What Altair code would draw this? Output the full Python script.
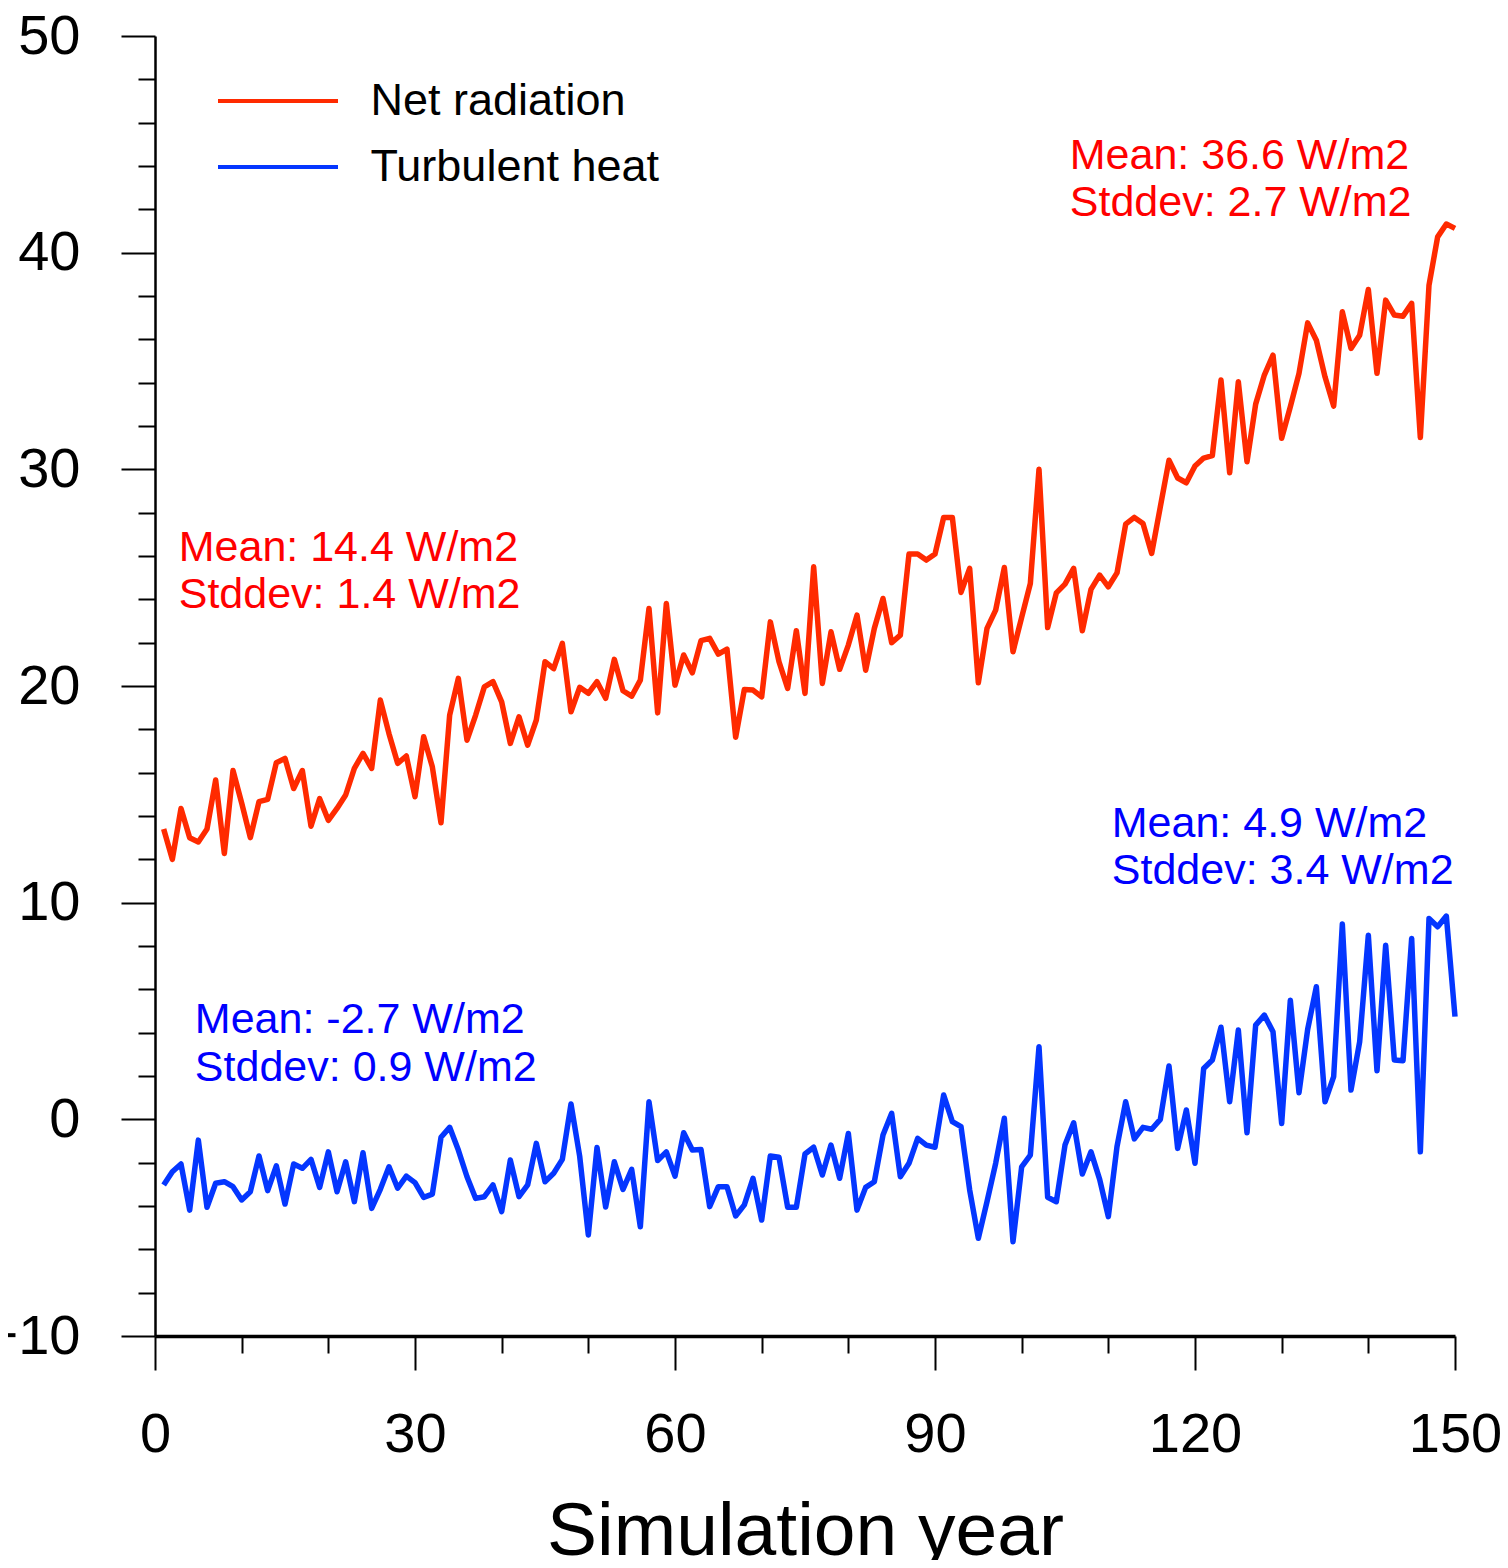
import altair as alt
import pandas as pd

years = list(range(1, 151))

net_radiation = [
    13.4, 12.0, 14.35, 13.0, 12.8, 13.4, 15.66, 12.27, 16.1, 14.6,
    13.0, 14.66, 14.77, 16.46, 16.66, 15.27, 16.1, 13.53, 14.8, 13.8,
    14.35, 14.97, 16.2, 16.89, 16.2, 19.35, 17.8, 16.43, 16.77, 14.89,
    17.66, 16.27, 13.69, 18.66, 20.35, 17.5, 18.66, 19.96, 20.2, 19.27,
    17.35, 18.58, 17.27, 18.43, 21.12, 20.8, 21.97, 18.81, 19.94, 19.66,
    20.2, 19.43, 21.23, 19.78, 19.53, 20.27, 23.58, 18.76, 23.81, 20.04,
    21.43, 20.61, 22.09, 22.2, 21.47, 21.7, 17.63, 19.84, 19.81, 19.5,
    22.96, 21.12, 19.89, 22.55, 19.66, 25.5, 20.12, 22.5, 20.77, 21.89,
    23.27, 20.73, 22.66, 24.04, 22.0, 22.35, 26.09, 26.09, 25.81, 26.09,
    27.78, 27.78, 24.32, 25.43, 20.15, 22.66, 23.5, 25.47, 21.58, 23.17,
    24.73, 30.0, 22.7, 24.3, 24.7, 25.43, 22.55, 24.46, 25.12, 24.58,
    25.22, 27.47, 27.78, 27.5, 26.12, 28.27, 30.42, 29.6, 29.38, 30.15,
    30.52, 30.63, 34.12, 29.84, 34.04, 30.35, 33.01, 34.35, 35.27, 31.43,
    32.89, 34.43, 36.76, 35.96, 34.27, 32.92, 37.27, 35.58, 36.19, 38.3,
    34.43, 37.81, 37.12, 37.07, 37.66, 31.47, 38.5, 40.73, 41.32, 41.12,
]

turbulent_heat = [
    -3.03, -2.42, -2.06, -4.19, -0.96, -4.06, -2.95, -2.88, -3.11, -3.72,
    -3.34, -1.69, -3.29, -2.15, -3.91, -2.06, -2.26, -1.85, -3.14, -1.5,
    -3.34, -1.96, -3.8, -1.54, -4.11, -3.23, -2.19, -3.18, -2.62, -2.92,
    -3.6, -3.45, -0.83, -0.37, -1.42, -2.65, -3.65, -3.57, -3.03, -4.26,
    -1.88, -3.57, -3.03, -1.11, -2.88, -2.49, -1.85, 0.71, -1.7, -5.34,
    -1.3, -4.05, -1.96, -3.23, -2.31, -4.96, 0.81, -1.9, -1.5, -2.62,
    -0.62, -1.42, -1.39, -4.03, -3.11, -3.11, -4.46, -3.95, -2.72, -4.65,
    -1.69, -1.75, -4.06, -4.06, -1.6, -1.29, -2.57, -1.19, -2.72, -0.65,
    -4.19, -3.14, -2.88, -0.72, 0.28, -2.65, -2.03, -0.88, -1.19, -1.29,
    1.12, -0.11, -0.34, -3.26, -5.49, -3.8, -2.03, 0.05, -5.65, -2.19,
    -1.65, 3.35, -3.6, -3.8, -1.19, -0.16, -2.52, -1.5, -2.77, -4.49,
    -1.26, 0.81, -0.9, -0.37, -0.46, 0.0, 2.46, -1.34, 0.43, -2.03,
    2.35, 2.74, 4.25, 0.81, 4.12, -0.62, 4.35, 4.81, 4.04, -0.19,
    5.5, 1.23, 4.15, 6.12, 0.81, 1.97, 9.01, 1.35, 3.58, 8.5,
    2.24, 8.04, 2.74, 2.7, 8.35, -1.5, 9.27, 8.89, 9.38, 4.74,
]

series_names = ["Net radiation", "Turbulent heat"]
line_colors = ["#ff2a00", "#0436ff"]

x_ticks = list(range(0, 151, 10))
y_ticks = list(range(-10, 51, 2))

ann_text = [
    "Mean: 36.6 W/m2", "Stddev: 2.7 W/m2",
    "Mean: 14.4 W/m2", "Stddev: 1.4 W/m2",
    "Mean: 4.9 W/m2", "Stddev: 3.4 W/m2",
    "Mean: -2.7 W/m2", "Stddev: 0.9 W/m2",
]
ann_color = ["#ff0000"] * 4 + ["#0000ff"] * 4

# annotation anchor positions (layout, in data units)
ann_x = [105.55, 105.55, 2.74, 2.74, 110.4, 110.4, 4.6, 4.6]
ann_y = [43.87, 41.68, 25.78, 23.6, 13.03, 10.86, 3.97, 1.78]

df = pd.DataFrame({
    "year": years * 2,
    "value": net_radiation + turbulent_heat,
    "series": [series_names[0]] * len(years) + [series_names[1]] * len(years),
})
ann_df = pd.DataFrame({"text": ann_text, "x": ann_x, "y": ann_y, "color": ann_color})

FONT = "Liberation Sans"

x_scale = alt.Scale(domain=[0, 150], nice=False, zero=False)
y_scale = alt.Scale(domain=[-10, 50], nice=False, zero=False)

x_axis = alt.Axis(
    values=x_ticks,
    labelExpr="datum.value % 30 === 0 ? datum.label : ''",
    tickSize={"condition": {"test": "datum.value % 30 === 0", "value": 34}, "value": 17},
    tickWidth=2,
    tickColor="black",
    domainColor="black",
    domainWidth=3.5,
    labelFont=FONT,
    labelFontSize=56,
    labelColor="black",
    labelPadding=37,
    labelOverlap=False,
    labelFlush=False,
    grid=False,
    titleFont=FONT,
    titleFontSize=75,
    titleFontWeight="normal",
    titleColor="black",
    titleBaseline="alphabetic",
    titleAlign="center",
    titleX=650,
    titleY=218,
)

y_axis = alt.Axis(
    values=y_ticks,
    labelExpr="datum.value % 10 === 0 ? datum.label : ''",
    tickSize={"condition": {"test": "datum.value % 10 === 0", "value": 34}, "value": 17},
    tickWidth=2,
    tickColor="black",
    domainColor="black",
    domainWidth=2.5,
    labelFont=FONT,
    labelFontSize=56,
    labelColor="black",
    labelPadding=41,
    labelOverlap=False,
    labelFlush=False,
    grid=False,
)

lines = alt.Chart(df).mark_line(strokeWidth=5.5, strokeJoin="round").encode(
    x=alt.X("year:Q", scale=x_scale, axis=x_axis, title="Simulation year"),
    y=alt.Y("value:Q", scale=y_scale, axis=y_axis, title=None),
    color=alt.Color(
        "series:N",
        scale=alt.Scale(domain=series_names, range=line_colors),
        legend=alt.Legend(
            title=None,
            orient="none",
            legendX=100.5,
            legendY=42.5,
            padding=0,
            symbolType="M-4,0L4,0",
            symbolSize=900,
            symbolStrokeWidth=4,
            labelFont=FONT,
            labelFontSize=45,
            labelColor="black",
            labelLimit=500,
            labelOffset=70,
            rowPadding=20,
        ),
    ),
)

ann = alt.Chart(ann_df).mark_text(
    align="left", baseline="alphabetic", fontSize=43, font=FONT
).encode(
    x=alt.X("x:Q", scale=x_scale, axis=x_axis, title="Simulation year"),
    y=alt.Y("y:Q", scale=y_scale, axis=y_axis, title=None),
    text="text:N",
    color=alt.Color("color:N", scale=None),
)

chart = alt.layer(lines, ann).properties(
    width=1300,
    height=1300,
    background="white",
    autosize=alt.AutoSizeParams(type="none"),
    padding={"left": 147, "top": 28, "right": 45, "bottom": 224},
).configure_view(stroke=None)

chart.save("out.html", embed_options={"renderer": "svg", "actions": False})
